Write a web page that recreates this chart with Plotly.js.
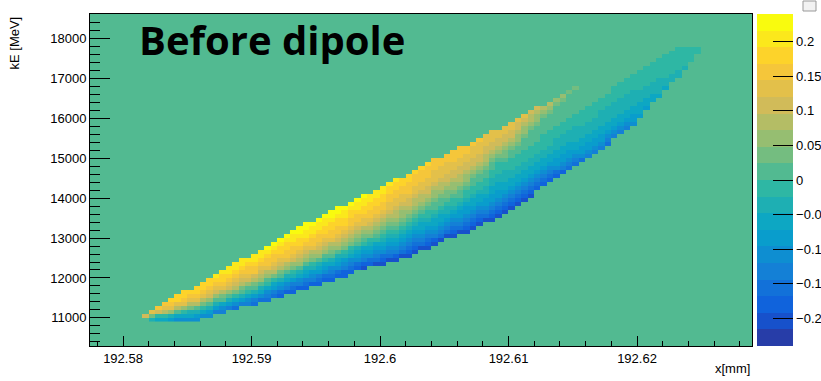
<!DOCTYPE html>
<html><head><meta charset="utf-8">
<script src="https://cdn.plot.ly/plotly-3.0.1.min.js"></script>
<style>html,body{margin:0;padding:0;background:#fff;}#chart{width:821px;height:381px;}</style>
</head><body><div id="chart"></div>
<script>
// ---- data ----
// x bins [mm]: centre of first bin and bin width
const xFirst = 192.58125, xStep = 0.0005;
// kE bins [MeV]
const yFirst = 10950, yStep = 100, nRows = 70;
// colour scale range and number of colour levels
const zMin = -0.24, zMax = 0.24, nLevels = 20;
// for every x column: index of first filled kE row
const colStart = [0,1,0,0,0,0,0,0,0,0, 1,1,2,2,3,3,4,4,4,5, 5,6,6,7,7,8,8,9,9,10,
  10,11,11,12,13,13,14,14,14,15, 15,16,16,17,18,18,19,20,21,21, 22,22,23,24,25,25,26,27,28,29,
  30,31,33,34,35,36,37,38,39,40, 41,42,43,44,46,47,48,49,51,53, 55,56,58,60,61,63,65,67];
// colour level of each filled row going upward ('0'-'9' = 0-9, 'a'-'j' = 10-19)
const colLevels = ["","e","8bf","79eg","79dfg","68cfgh","57adfhh","579cfghh","578bdfgh","568adfghh",
 "579bdfghh","568acefghh","468acefghi","457abdfghhi","468acefghii","3579bdefghii","468abdefghii","4579acefgghi","3468abdegghii","3578acdefghii",
 "34579acdfgghij","34679bdefgghij","23568abdefghhij","24578acdfgghhij","234689bcefgghiij","24578acdefghhijj","234678acdefghiijj","245689bcdfgghiij","234678acdefgghiij","235679acdefghhiij",
 "234578abcdfgghhijj","235678acdefgghhijj","2245689bcdefghhiij","2345789bcdefgghhij","235678abcdefgghiij","1245679abcdffghhiij","2356789bcdefgghhii","1345679abcdefgghhii","12356789abcdefgghhii","13456789abcdeffgghhi",
 "12456789abcddeffgghhi","13456789abccdeffgghh","123456789abcdeefggghh","123456789abcddeffgggh","134567789abcddeffgggh","1234567899abcdeeffgggh","124567789aabccdefffggg","134567789aabcddefffgg","134567889abbcdeefffgg","1234567899abccdeeffggg",
 "134566789aabcddeeffggg","12345667899abccdeeffgg","12345677899aabcdeefffg","12345677899aabcdeefffg","13456678899aabcddeefff","1234566778899aabcdeefff","12345667788999abcdeeff","1234567788899abbcdeeff","1234567788999aabcdeeff","1234567788999aabccdeef",
 "1234567788999aaabccdef","1234567788999aaaabcdde","234567788999aaaabccde","2345677889999aaaabcd","2345677889999aaaabcd","2356677888999aaaaabc","2456677888999aaaaabc","3456677888999aaaaaab","3456778888999aaaaaab","3566778889999",
 "4566778889999","4566778889999","4566778888999","3456778888999","4567788889999","4567788889999","4567788889999","5667788889999","677788899999","67788899999",
 "7788899999","7888899999","788999999","88999999","88999999","899999","9999","99"];
const cbTicks = [-0.2,-0.15,-0.1,-0.05,0,0.05,0.1,0.15,0.2];
const xTickVals = [192.58,192.59,192.6,192.61,192.62];
const xTickText = ["192.58","192.59","192.6","192.61","192.62"];
const yTickVals = [11000,12000,13000,14000,15000,16000,17000,18000];
const yTickText = ["11000","12000","13000","14000","15000","16000","17000","18000"];

// ---- palette (ROOT kBird) ----
const st=[0,.125,.25,.375,.5,.625,.75,.875,1];
const pr=[0.2082,0.0592,0.0780,0.0232,0.1802,0.5301,0.8186,0.9956,0.9764];
const pg=[0.1664,0.3599,0.5041,0.6419,0.7178,0.7492,0.7328,0.7862,0.9832];
const pb=[0.5293,0.8684,0.8385,0.7914,0.6425,0.4662,0.3499,0.1968,0.0539];
function bird(t){
  let i=0; while(i<st.length-2 && t>st[i+1]) i++;
  const f=(t-st[i])/(st[i+1]-st[i]);
  const c=a=>Math.round(255*(a[i]+f*(a[i+1]-a[i])));
  return 'rgb('+c(pr)+','+c(pg)+','+c(pb)+')';
}
const levelColors=[];
for(let i=0;i<nLevels;i++){ const idx=Math.floor((i+0.99)*255/nLevels); levelColors.push(bird(Math.min(1,idx/254))); }
const colorscale=[];
for(let i=0;i<nLevels;i++){ colorscale.push([i/nLevels,levelColors[i]]); colorscale.push([(i+1)/nLevels,levelColors[i]]); }

// ---- build grid ----
const nCols=colLevels.length;
const xs=[], ys=[];
for(let k=0;k<nCols;k++) xs.push(xFirst+k*xStep);
for(let r=0;r<nRows;r++) ys.push(yFirst+r*yStep);
const z=[];
for(let r=0;r<nRows;r++) z.push(new Array(nCols).fill(null));
const dz=(zMax-zMin)/nLevels;
for(let k=0;k<nCols;k++){
  const s=colLevels[k];
  for(let j=0;j<s.length;j++){
    const lev=parseInt(s[j],36);
    z[colStart[k]+j][k]=zMin+(lev+0.5)*dz;
  }
}

const trace={type:'heatmap',x:xs,y:ys,z:z,zmin:zMin,zmax:zMax,colorscale:colorscale,
  zsmooth:false,hoverinfo:'skip',
  colorbar:{thickness:36,thicknessmode:'pixels',len:1,lenmode:'fraction',y:0.5,yanchor:'middle',
    x:(757-90)/662,xanchor:'left',xpad:0,ypad:0,outlinewidth:0,
    tickmode:'array',tickvals:cbTicks,ticks:'inside',ticklen:20,tickwidth:1,tickcolor:'#000',
    tickfont:{size:13,color:'#000'}}};

const W=662,H=332;
const layout={width:821,height:381,margin:{l:90,r:69,t:14,b:35,pad:0,autoexpand:false},
  paper_bgcolor:'#fff',plot_bgcolor:levelColors[10],
  font:{family:'Liberation Sans, Arial, Helvetica, sans-serif',size:13,color:'#000'},
  xaxis:{range:[192.57743,192.62895],tickmode:'array',tickvals:xTickVals,ticktext:xTickText,
    ticks:'inside',ticklen:10,tickwidth:1,tickcolor:'#000',
    minor:{tickmode:'linear',tick0:192.58,dtick:0.002,ticks:'inside',ticklen:5,tickwidth:1,tickcolor:'#000',showgrid:false},
    showgrid:false,zeroline:false,showline:true,linecolor:'#000',linewidth:1,mirror:true,tickfont:{size:13},automargin:false},
  yaxis:{range:[10295,18615],tickmode:'array',tickvals:yTickVals,ticktext:yTickText,
    ticks:'inside',ticklen:20,tickwidth:1,tickcolor:'#000',
    minor:{tickmode:'linear',tick0:11000,dtick:200,ticks:'inside',ticklen:10,tickwidth:1,tickcolor:'#000',showgrid:false},
    showgrid:false,zeroline:false,showline:true,linecolor:'#000',linewidth:1,mirror:true,tickfont:{size:13},automargin:false},
  annotations:[
    {text:'<b>Before dipole</b>',xref:'paper',yref:'paper',x:(137-90)/W,y:1-(40-14)/H,xanchor:'left',yanchor:'middle',
     showarrow:false,font:{family:'Open Sans, Noto Sans, sans-serif',size:40,color:'#000'}},
    {text:'kE [MeV]',xref:'paper',yref:'paper',x:(14-90)/W,y:1-(15-14)/H,xanchor:'center',yanchor:'top',textangle:-90,
     showarrow:false,font:{size:13,color:'#000'}},
    {text:'x[mm]',xref:'paper',yref:'paper',x:1,y:1-(368-14)/H,xanchor:'right',yanchor:'middle',
     showarrow:false,font:{size:13,color:'#000'}}
  ],
  shapes:[
    {type:'rect',xref:'paper',yref:'paper',x0:(803-90)/W,x1:(816-90)/W,y0:1-(11-14)/H,y1:1-(1-14)/H,
     line:{color:'#999',width:1},fillcolor:'#f2f2f2'}
  ]};
Plotly.newPlot('chart',[trace],layout,{displayModeBar:false,staticPlot:true});
</script></body></html>
